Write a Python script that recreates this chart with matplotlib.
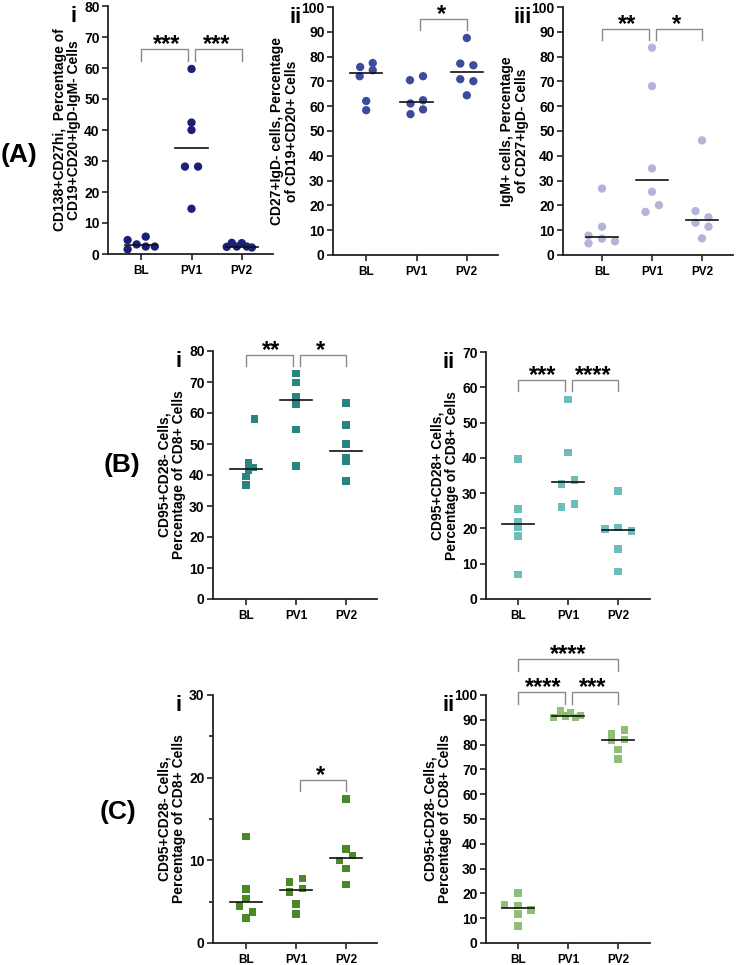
import matplotlib
matplotlib.use('Agg')
import matplotlib.pyplot as plt
import numpy as np

plt.rcParams['font.family'] = ['Liberation Sans', 'DejaVu Sans']
plt.rcParams['font.weight'] = 'bold'

W, H = 736, 965
groups = ['BL', 'PV1', 'PV2']

# ---- data (values per group) ----
a1_vals = [[4.5, 1.5, 3.1, 2.4, 5.6, 2.4],
           [59.7, 42.4, 40.0, 28.2, 28.2, 14.6],
           [2.3, 3.6, 2.4, 3.5, 2.4, 2.1]]
a2_vals = [[75.8, 77.4, 72.1, 74.5, 62.1, 58.4],
           [70.5, 72.1, 62.4, 61.1, 56.8, 58.7],
           [87.5, 77.2, 76.5, 70.9, 70.1, 64.4]]
a3_vals = [[26.8, 11.4, 7.8, 4.7, 6.6, 5.5],
           [83.6, 68.1, 34.9, 25.5, 17.4, 20.1],
           [46.2, 17.7, 13.0, 15.2, 11.4, 6.7]]
b1_vals = [[58.0, 44.0, 41.6, 42.4, 39.5, 36.8],
           [72.8, 69.8, 65.3, 62.9, 54.7, 42.9],
           [63.3, 56.1, 50.0, 45.7, 44.3, 38.1]]
b2_vals = [[39.6, 25.5, 22.0, 20.3, 17.9, 6.9],
           [56.5, 41.5, 32.6, 33.7, 26.0, 27.0],
           [30.6, 19.8, 20.3, 19.3, 14.1, 7.8]]
c1_vals = [[12.9, 6.5, 5.4, 4.5, 3.75, 3.0],
           [7.4, 7.8, 6.2, 6.6, 4.7, 3.5],
           [17.4, 11.4, 10.6, 10.0, 9.0, 7.1]]
c2_vals = [[15.6, 20.2, 15.2, 11.6, 13.2, 6.9],
           [90.9, 93.5, 91.5, 92.9, 90.9, 91.8],
           [84.4, 86.0, 81.7, 82.0, 78.0, 74.3]]

# horizontal spread of the dots (category units), layout only
a1_jit = [[-0.27, -0.27, -0.09, 0.09, 0.09, 0.27],
          [0, 0, 0, -0.13, 0.13, 0],
          [-0.3, -0.2, -0.1, 0.0, 0.1, 0.2]]
a2_jit = [[-0.12, 0.13, -0.13, 0.13, 0, 0],
          [-0.13, 0.13, 0.13, -0.12, -0.12, 0.13],
          [0, -0.13, 0.13, -0.13, 0.13, 0]]
a3_jit = [[0, 0, -0.27, -0.27, 0, 0.26],
          [0, 0, 0, 0, -0.13, 0.14],
          [0, -0.13, -0.13, 0.13, 0.13, 0]]
b1_jit = [[0.17, 0.05, 0.05, 0.14, 0, 0],
          [0, 0, 0, 0, 0, 0],
          [0, 0, 0, 0, 0, 0]]
b2_jit = [[0, 0, 0, 0, 0, 0],
          [0, 0, -0.13, 0.13, -0.13, 0.13],
          [0, -0.26, 0, 0.27, 0, 0]]
c1_jit = [[0, 0, 0, -0.13, 0.13, 0],
          [-0.13, 0.13, -0.13, 0.13, 0, 0],
          [0, 0, 0.13, -0.13, 0, 0]]
c2_jit = [[-0.27, 0, 0, 0, 0.26, 0],
          [-0.29, -0.15, -0.05, 0.05, 0.15, 0.25],
          [-0.13, 0.13, -0.13, 0.13, 0, 0]]

# significance: (from, to, bracket height, label)
a1_sig = [(0, 1, 66, '***'), (1, 2, 66, '***')]
a2_sig = [(1, 2, 95.3, '*')]
a3_sig = [(0, 1, 91.3, '**'), (1, 2, 91.3, '*')]
b1_sig = [(0, 1, 78.7, '**'), (1, 2, 78.7, '*')]
b2_sig = [(0, 1, 62.0, '***'), (1, 2, 62.0, '****')]
c1_sig = [(1, 2, 19.7, '*')]
c2_sig = [(0, 1, 101.2, '****'), (1, 2, 101.2, '***'), (0, 2, 114.6, '****')]

fig = plt.figure(figsize=(W / 100, H / 100), dpi=100)


def make_ax(x0, x1, y0, y1):
    return fig.add_axes([x0 / W, 1 - y1 / H, (x1 - x0) / W, (y1 - y0) / H])


def panel(ax, vals, jit, color, marker, ymax, ystep, ylabel, sig, roman,
          xlim=(-0.66, 2.62), minor=None, drop=None):
    for i, (v, j) in enumerate(zip(vals, jit)):
        ax.scatter(np.array(j) + i, v, s=36 if marker == 'o' else 30,
                   marker=marker, color=color, edgecolors='none', zorder=3)
        m = np.median(v)
        ax.plot([i - 0.32, i + 0.32], [m, m], color='#111111', lw=1.2, zorder=4)
    ax.set_xlim(*xlim)
    ax.set_ylim(0, ymax)
    ax.set_yticks(np.arange(0, ymax + 0.1, ystep))
    if minor is not None:
        ax.set_yticks(minor, minor=True)
        ax.tick_params(axis='y', which='minor', length=3, width=1.2, color='#222222')
    ax.set_xticks(range(3))
    ax.set_xticklabels(groups)
    for s in ['top', 'right']:
        ax.spines[s].set_visible(False)
    for s in ['left', 'bottom']:
        ax.spines[s].set_linewidth(1.3)
        ax.spines[s].set_color('#222222')
    ax.tick_params(axis='both', which='major', length=4, width=1.2,
                   color='#222222', pad=2)
    ax.tick_params(axis='y', labelsize=10)
    ax.tick_params(axis='x', labelsize=8.5, pad=4)
    ax.set_ylabel(ylabel, fontsize=10, fontweight='bold', labelpad=2,
                  linespacing=1.05)
    dh = drop if drop is not None else ymax * 0.045
    for a, b, h, lab in sig:
        xa = a + (0.07 if a == 1 else 0)
        xb = b - (0.07 if b == 1 and a == 0 else 0)
        ax.plot([xa, xa, xb, xb], [h - dh, h, h, h - dh], color='#8a8a8a',
                lw=1.0, clip_on=False)
        ax.annotate(lab, xy=((a + b) / 2, h), xytext=(0, -1.5),
                    textcoords='offset points', ha='center', va='baseline',
                    fontsize=17, fontweight='bold', annotation_clip=False)
    ax.text(-31 / (ax.get_position().width * W), 1.0, roman,
            transform=ax.transAxes, fontsize=16, fontweight='bold',
            ha='right', va='top')


ax = make_ax(108, 273, 6, 254)
panel(ax, a1_vals, a1_jit, '#1b1f78', 'o', 80, 10,
      'CD138+CD27hi,  Percentage of\nCD19+CD20+IgD-IgM- Cells', a1_sig, 'i')
ax = make_ax(333, 498, 7, 255)
panel(ax, a2_vals, a2_jit, '#3c4b9c', 'o', 100, 10,
      'CD27+IgD- cells, Percentage\nof CD19+CD20+ Cells', a2_sig, 'ii')
ax = make_ax(563, 733, 7, 255)
panel(ax, a3_vals, a3_jit, '#b2b5d8', 'o', 100, 10,
      'IgM+ cells, Percentage\nof CD27+IgD- Cells', a3_sig, 'iii',
      xlim=(-0.78, 2.62))

ax = make_ax(213, 377, 351, 599)
panel(ax, b1_vals, b1_jit, '#27847f', 's', 80, 10,
      'CD95+CD28- Cells,\nPercentage of CD8+ Cells', b1_sig, 'i')
ax = make_ax(486, 650, 352, 599)
panel(ax, b2_vals, b2_jit, '#6dbdbb', 's', 70, 10,
      'CD95+CD28+ Cells,\nPercentage of CD8+ Cells', b2_sig, 'ii',
      xlim=(-0.64, 2.64))

ax = make_ax(213, 377, 695, 943)
panel(ax, c1_vals, c1_jit, '#4a8a26', 's', 30, 10,
      'CD95+CD28- Cells,\nPercentage of CD8+ Cells', c1_sig, 'i',
      minor=[5, 15, 25])
ax = make_ax(486, 650, 695, 943)
panel(ax, c2_vals, c2_jit, '#8fbf76', 's', 100, 10,
      'CD95+CD28- Cells,\nPercentage of CD8+ Cells', c2_sig, 'ii',
      xlim=(-0.64, 2.64), drop=5)

fig.text(19 / W, 1 - 155 / H, '(A)', fontsize=19, fontweight='bold',
         ha='center', va='center')
fig.text(122 / W, 1 - 465 / H, '(B)', fontsize=19, fontweight='bold',
         ha='center', va='center')
fig.text(118 / W, 1 - 812 / H, '(C)', fontsize=19, fontweight='bold',
         ha='center', va='center')

fig.savefig('out.png', dpi=100, facecolor='white')
